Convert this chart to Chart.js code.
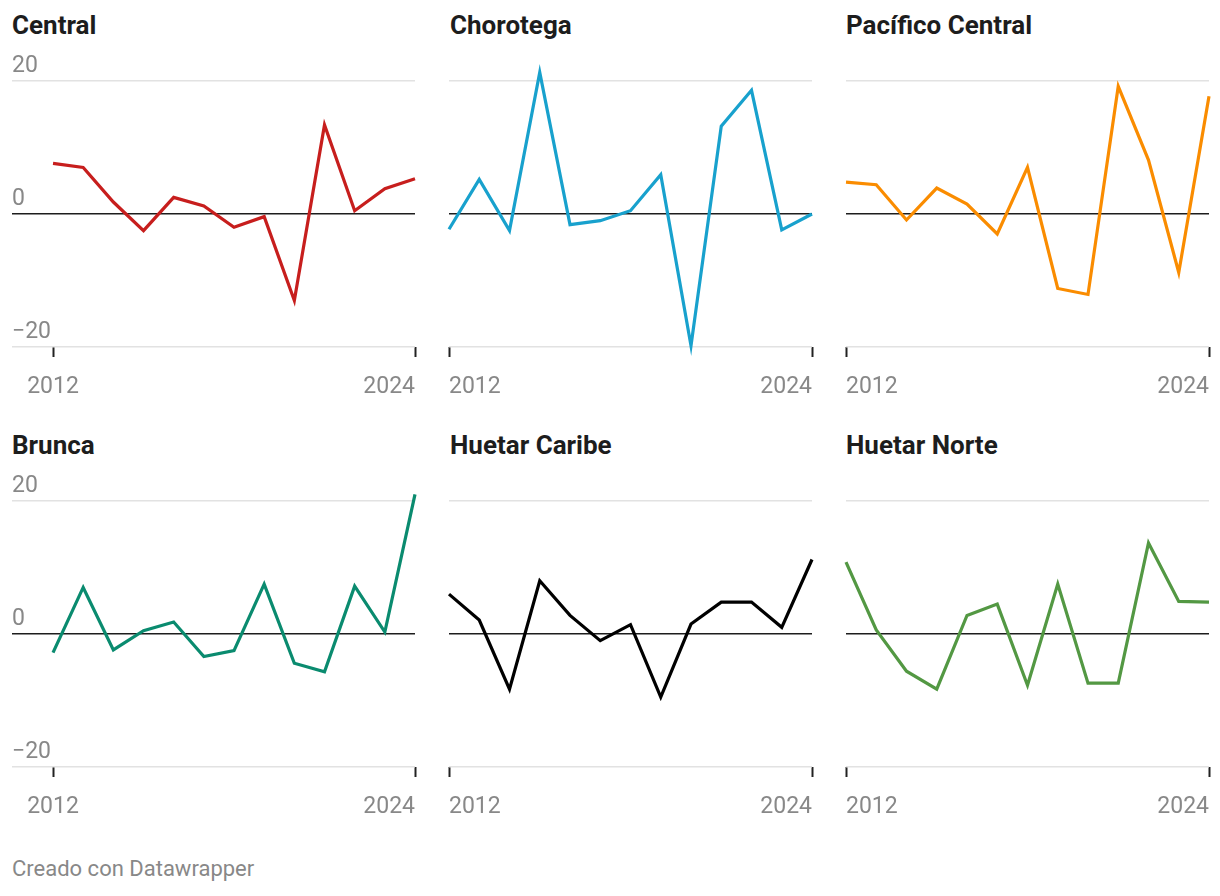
<!DOCTYPE html>
<html><head><meta charset="utf-8">
<script src="https://cdn.jsdelivr.net/npm/chart.js@4"></script>
<style>
html,body{margin:0;padding:0;background:#fff;}
body{width:1220px;height:896px;position:relative;overflow:hidden;font-family:Roboto,sans-serif;}
.title{position:absolute;font-weight:700;font-size:26px;line-height:30px;color:#1d1d1d;white-space:nowrap;}
canvas.panel{position:absolute;}
.footer{position:absolute;left:12px;top:856px;font-size:22px;line-height:26px;color:#888;white-space:nowrap;}
</style></head><body>
<div class="footer">Creado con Datawrapper</div>
<script>
// ---- data ----
const years = [2012, 2013, 2014, 2015, 2016, 2017, 2018, 2019, 2020, 2021, 2022, 2023, 2024];
const regions = ['Central', 'Chorotega', 'Pacífico Central', 'Brunca', 'Huetar Caribe', 'Huetar Norte'];
const central        = [7.6, 7.0, 1.8, -2.5, 2.5, 1.2, -2.0, -0.4, -13.0, 13.4, 0.5, 3.8, 5.3];
const chorotega      = [-2.3, 5.2, -2.5, 21.3, -1.6, -1.0, 0.5, 5.9, -19.8, 13.2, 18.6, -2.4, 0.0];
const pacificoCentral= [4.8, 4.4, -0.9, 3.9, 1.5, -3.0, 7.0, -11.2, -12.1, 19.2, 8.1, -8.8, 17.7];
const brunca         = [-2.8, 7.0, -2.4, 0.5, 1.8, -3.4, -2.5, 7.5, -4.4, -5.7, 7.2, 0.3, 21.0];
const huetarCaribe   = [6.0, 2.1, -8.3, 8.0, 2.8, -1.0, 1.4, -9.5, 1.5, 4.8, 4.8, 1.0, 11.2];
const huetarNorte    = [10.8, 0.6, -5.6, -8.3, 2.8, 4.5, -7.7, 7.5, -7.4, -7.4, 13.7, 4.9, 4.8];
const seriesValues = [central, chorotega, pacificoCentral, brunca, huetarCaribe, huetarNorte];
const yTicks = [-20, 0, 20];
const yTickLabels = ['\u221220', '0', '20'];
const xTicks = [2012, 2024];
const xTickLabels = ['2012', '2024'];

// ---- styles / layout ----
const lineColors = ['#c71e1d', '#18a1cd', '#fa8c00', '#0a8b6f', '#000000', '#539843'];
const LABEL_PAD = 16; // x tick label padding (also becomes horizontal side padding)
const cols = [
  {plotLeft: 12,  plotRight: 415,  xMin: 2010.64, showY: true,  titleX: 12},
  {plotLeft: 449, plotRight: 812,  xMin: 2012,    showY: false, titleX: 450},
  {plotLeft: 846, plotRight: 1209, xMin: 2012,    showY: false, titleX: 846}
];
const rows = [{top: 40, titleTop: 10}, {top: 460, titleTop: 430}];
const tickFont = {family: 'Roboto', size: 23};

function makePanel(idx) {
  const col = cols[idx % 3], row = rows[Math.floor(idx / 3)];
  const t = document.createElement('div');
  t.className = 'title';
  t.textContent = regions[idx];
  t.style.left = col.titleX + 'px';
  t.style.top = row.titleTop + 'px';
  document.body.appendChild(t);

  const left = col.plotLeft - LABEL_PAD;
  const width = (col.plotRight + LABEL_PAD) - left;
  const c = document.createElement('canvas');
  c.className = 'panel';
  c.width = width; c.height = 367;
  c.style.left = left + 'px'; c.style.top = row.top + 'px';
  c.style.width = width + 'px'; c.style.height = '367px';
  document.body.appendChild(c);

  const values = seriesValues[idx];
  const xTickValues = col.showY ? [col.xMin].concat(xTicks) : xTicks.slice();

  new Chart(c, {
    type: 'line',
    data: {
      datasets: [{
        data: years.map((yr, i) => ({x: yr, y: values[i]})),
        borderColor: lineColors[idx],
        borderWidth: 3.2,
        pointRadius: 0,
        pointHoverRadius: 0,
        tension: 0,
        fill: false,
        clip: false
      }]
    },
    options: {
      responsive: false,
      animation: false,
      events: [],
      plugins: {legend: {display: false}, tooltip: {enabled: false}},
      layout: {padding: {top: 41, left: 0, right: 0, bottom: 0}},
      scales: {
        x: {
          type: 'linear',
          min: col.xMin,
          max: 2024,
          border: {display: false},
          afterBuildTicks: s => { s.ticks = xTickValues.map(v => ({value: v})); },
          afterFit: s => { s.height = 60; },
          grid: {
            drawOnChartArea: false,
            drawTicks: true,
            tickLength: 10,
            tickWidth: 2,
            color: 'rgba(0,0,0,0)',
            tickColor: ctx => (ctx.tick && xTicks.includes(ctx.tick.value)) ? '#222' : 'rgba(0,0,0,0)'
          },
          ticks: {
            align: 'inner',
            autoSkip: false,
            maxRotation: 0,
            padding: LABEL_PAD,
            color: '#888',
            font: tickFont,
            callback: v => { const i = xTicks.indexOf(v); return i < 0 ? '' : xTickLabels[i]; }
          }
        },
        y: {
          min: -20,
          max: 20,
          border: {display: false},
          afterBuildTicks: s => { s.ticks = yTicks.map(v => ({value: v})); },
          afterFit: s => { s.width = 0; },
          grid: {
            drawTicks: false,
            color: ctx => (ctx.tick && ctx.tick.value === 0) ? '#1d1d1d' : '#e2e2e2',
            lineWidth: 1.5
          },
          ticks: {
            display: col.showY,
            mirror: true,
            padding: 0,
            labelOffset: -15,
            color: '#888',
            font: tickFont,
            callback: v => yTickLabels[yTicks.indexOf(v)]
          }
        }
      }
    }
  });
}
for (let i = 0; i < 6; i++) makePanel(i);
</script>
</body></html>
